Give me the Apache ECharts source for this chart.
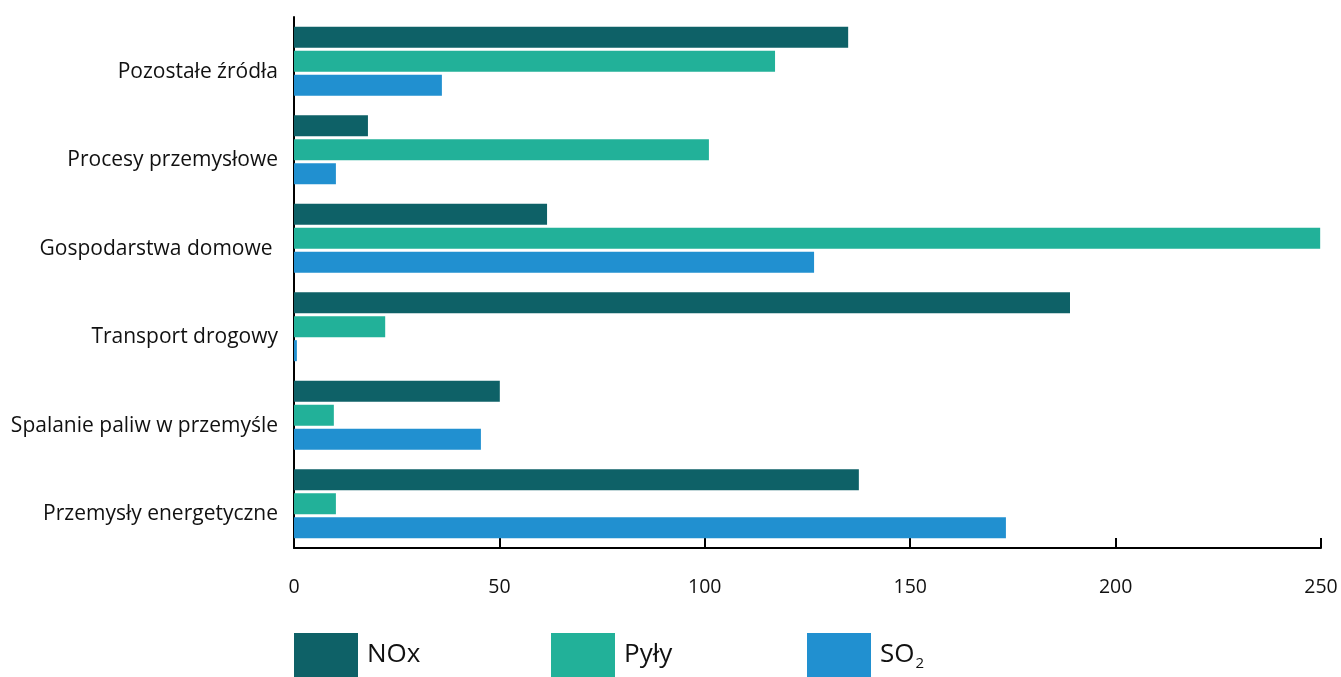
<!DOCTYPE html>
<html><head><meta charset="utf-8">
<script src="https://cdn.jsdelivr.net/npm/echarts@6/dist/echarts.min.js"></script>
<style>html,body{margin:0;padding:0;background:#fff}#c{width:1341px;height:677px}</style>
</head><body><div id="c"></div>
<script>
const categories = ['Przemysły energetyczne','Spalanie paliw w przemyśle','Transport drogowy','Gospodarstwa domowe ','Procesy przemysłowe','Pozostałe źródła'];
const noxValues = [137.5, 50.1, 188.9, 61.6, 18.0, 134.9];
const pylyValues = [10.2, 9.7, 22.2, 249.8, 101.0, 117.1];
const so2Values = [173.3, 45.5, 0.7, 126.6, 10.2, 36.0];
const xTicks = [0, 50, 100, 150, 200, 250];

const chart = echarts.init(document.getElementById('c'));
const font = 'Open Sans';
function legendAt(left, name, fmt) {
  return {
    left: left, top: 633, padding: 0, itemWidth: 64, itemHeight: 44, itemGap: 0,
    icon: 'rect', data: [name], selectedMode: false,
    textStyle: {fontFamily: font, fontSize: 26, color: '#111', padding: [0,0,0,4],
      rich: {sub: {fontFamily: font, fontSize: 15, verticalAlign: 'bottom', padding: [18,0,0,1], color:'#111'}, n:{fontFamily: font, fontSize: 26, color:'#111'}}},
    formatter: fmt
  };
}
chart.setOption({
  animation: false,
  grid: {left: 294, right: 20, top: 17, bottom: 129, containLabel: false},
  legend: [
    legendAt(294, 'NOx', '{n|NOx}'),
    legendAt(551, 'Pyły', '{n|Pyły}'),
    legendAt(807, 'SO2', '{n|SO}{sub|2}')
  ],
  xAxis: {
    type: 'value', min: 0, max: 250, interval: 50,
    axisLine: {show: true, lineStyle: {color: '#000', width: 2}},
    axisTick: {show: true, inside: true, length: 10, lineStyle: {color: '#000', width: 2}},
    splitLine: {show: false},
    axisLabel: {fontFamily: font, fontSize: 19.5, color: '#111', margin: 29,
      formatter: v => xTicks.includes(v) ? String(v) : ''}
  },
  yAxis: {
    type: 'category', data: categories,
    axisLine: {show: true, lineStyle: {color: '#000', width: 2}},
    axisTick: {show: false},
    axisLabel: {fontFamily: font, fontSize: 21, color: '#111', margin: 16, verticalAlign: 'top'}
  },
  series: [
    {name: 'NOx', type: 'bar', data: noxValues, barWidth: 21, barGap: '14%', barCategoryGap: '22%', itemStyle: {color: '#0E6167'}},
    {name: 'Pyły', type: 'bar', data: pylyValues, barWidth: 21, barGap: '14%', itemStyle: {color: '#22B199'}},
    {name: 'SO2', type: 'bar', data: so2Values, barWidth: 21, barGap: '14%', itemStyle: {color: '#2190D0'}}
  ]
});
</script></body></html>
